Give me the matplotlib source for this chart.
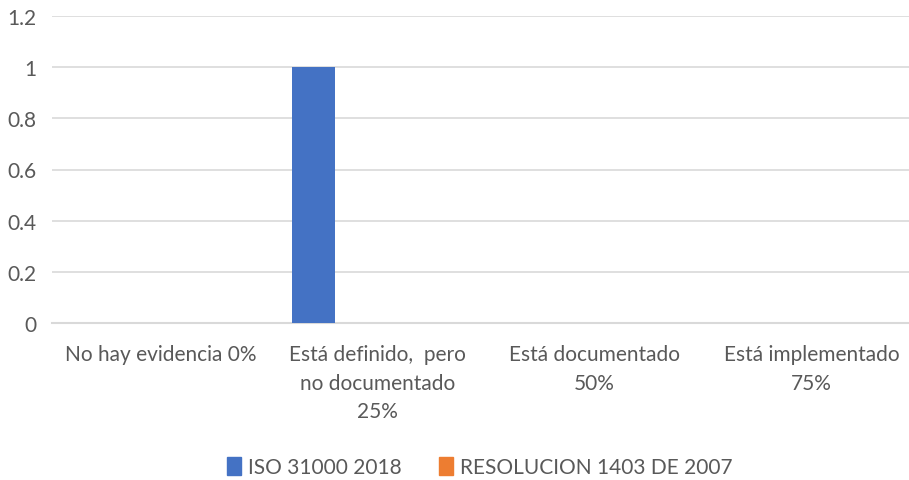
import numpy as np
import matplotlib.pyplot as plt
from matplotlib.patches import Patch

# Chart data
categories = ["No hay evidencia 0%",
              "Está definido,  pero\nno documentado\n25%",
              "Está documentado\n50%",
              "Está implementado\n75%"]
series_names = ["ISO 31000 2018", "RESOLUCION 1403 DE 2007"]
iso_values = [0, 1, 0, 0]
resolucion_values = [0, 0, 0, 0]
y_ticks = [0, 0.2, 0.4, 0.6, 0.8, 1, 1.2]
y_tick_labels = ["0", "0.2", "0.4", "0.6", "0.8", "1", "1.2"]

colors = ["#4472C4", "#ED7D31"]
text_color = "#595959"
plt.rcParams['font.family'] = ['Lato', 'DejaVu Sans']

W, H = 909, 481
fig = plt.figure(figsize=(W / 100, H / 100), dpi=100)
ax = fig.add_axes([52 / W, (H - 324) / H, 868 / W, 307 / H])

x = np.arange(len(categories))
w = 0.198
ax.bar(x - 1.5 * w, iso_values, width=w, color=colors[0], zorder=3)
ax.bar(x - 0.5 * w, resolucion_values, width=w, color=colors[1], zorder=3)

ax.set_xlim(-0.5, len(categories) - 0.5)
ax.set_ylim(0, 1.2)
ax.set_yticks(y_ticks)
ax.set_yticklabels(y_tick_labels)
ax.yaxis.grid(True, color="#d9d9d9", linewidth=1.2, zorder=0)
ax.set_axisbelow(True)
for s in ax.spines.values():
    s.set_visible(False)
ax.tick_params(axis="y", length=0, pad=11, labelsize=15, labelcolor=text_color)
ax.tick_params(axis="x", length=0, pad=15, labelsize=15, labelcolor=text_color)
ax.set_xticks(x)
ax.set_xticklabels(categories, linespacing=1.55)
ax.axhline(0, color="#d9d9d9", linewidth=1.5, zorder=2, clip_on=False)

handles = [Patch(color=c) for c in colors]
fig.legend(handles, series_names, loc="center", bbox_to_anchor=(480 / W, 1 - 468 / H),
           ncol=2, frameon=False, fontsize=15, labelcolor=text_color,
           handlelength=0.65, handleheight=0.95, handletextpad=0.35, columnspacing=1.8)

fig.savefig("out.png", dpi=100)
